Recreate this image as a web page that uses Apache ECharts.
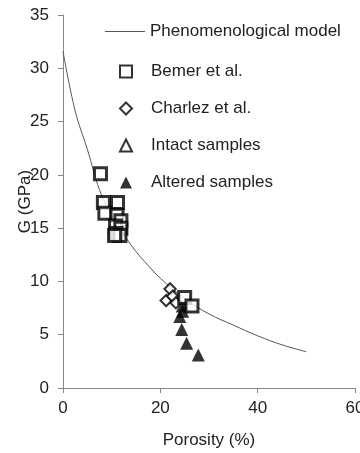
<!DOCTYPE html>
<html>
<head>
<meta charset="utf-8">
<script src="https://cdn.jsdelivr.net/npm/echarts@6/dist/echarts.min.js"></script>
<style>
  html, body { margin: 0; padding: 0; background: #fff; }
  #chart { width: 360px; height: 453px; }
</style>
</head>
<body>
<div id="chart"></div>
<script>
// phenomenological model curve [porosity %, G GPa]
const modelCurve = [
    [0, 31.6], [2.5, 26.0], [5, 22.4], [7.5, 18.6], [10, 16.2], [12.5, 14.4],
    [15, 12.8], [17.5, 11.5], [20, 10.3], [25, 8.4], [30, 6.95], [35, 5.9],
    [40, 4.9], [45, 4.05], [50, 3.4]
];

const bemer = [
    [7.7, 20.1], [8.3, 17.4], [11.2, 17.4], [8.6, 16.4], [11.1, 16.2], [11.9, 15.7],
    [10.8, 15.2], [11.9, 15.0], [10.9, 14.5], [11.7, 14.3], [10.6, 14.3],
    [25.0, 8.5], [26.5, 7.7]
];

const charlez = [
    [22.0, 9.3], [21.2, 8.2], [22.5, 8.6], [23.2, 8.0]
];

const intact = [
    [11.4, 15.4], [11.0, 14.8]
];

const altered = [
    [24.5, 7.7], [24.6, 7.2], [24.0, 6.7], [24.4, 5.5], [25.4, 4.2], [27.8, 3.1]
];

const xTicks = [0, 20, 40, 60];
const yTicks = [0, 5, 10, 15, 20, 25, 30, 35];

const chart = echarts.init(document.getElementById("chart"));
const font = "Liberation Sans";
const legendText = { fontSize: 17, color: "#222", fontFamily: font };

chart.setOption({
    animation: false,
    textStyle: { fontFamily: font },
    grid: { left: 63, right: 5, top: 15, bottom: 65, containLabel: false, outerBoundsMode: "none" },
    legend: [
        {
            // model line entry
            orient: "vertical",
            left: 100,
            top: 18,
            itemWidth: 40,
            itemHeight: 12,
            textStyle: legendText,
            data: [
                { name: "Phenomenological model", icon: "path://M0,0L40,0L40,1L0,1Z" }
            ]
        },
        {
            // sample markers
            orient: "vertical",
            left: 114,
            top: 58,
            itemGap: 20,
            itemWidth: 12,
            itemHeight: 12,
            textStyle: Object.assign({ padding: [0, 0, 0, 14] }, legendText),
            data: [
                "Bemer et al.",
                { name: "Charlez et al.", icon: "path://M6,1L11,6L6,11L1,6Z" },
                "Intact samples",
                "Altered samples"
            ]
        }
    ],
    xAxis: {
        type: "value",
        min: 0,
        max: 60,
        interval: 20,
        name: "Porosity (%)",
        nameLocation: "middle",
        nameGap: 44,
        nameMoveOverlap: false,
        nameTextStyle: { fontSize: 17, color: "#222" },
        axisLine: { lineStyle: { color: "#888" } },
        axisTick: { show: true, length: 5, lineStyle: { color: "#888" } },
        axisLabel: { fontSize: 17, color: "#222", margin: 12,
            formatter: (v) => (xTicks.includes(v) ? String(v) : "") },
        splitLine: { show: false }
    },
    yAxis: {
        type: "value",
        min: 0,
        max: 35,
        interval: 5,
        name: "G (GPa)",
        nameLocation: "middle",
        nameGap: 29,
        nameMoveOverlap: false,
        nameTextStyle: { fontSize: 17, color: "#222" },
        axisLine: { show: true, lineStyle: { color: "#888" } },
        axisTick: { show: true, length: 5, lineStyle: { color: "#888" } },
        axisLabel: { fontSize: 17, color: "#222", margin: 14,
            formatter: (v) => (yTicks.includes(v) ? String(v) : "") },
        splitLine: { show: false }
    },
    series: [
        {
            name: "Phenomenological model",
            type: "line",
            data: modelCurve,
            smooth: 0.4,
            symbol: "none",
            lineStyle: { color: "#555", width: 1 },
            itemStyle: { color: "#555" },
            z: 1
        },
        {
            name: "Altered samples",
            type: "scatter",
            data: altered,
            symbol: "triangle",
            symbolSize: 13,
            itemStyle: { color: "#000" },
            z: 2
        },
        {
            name: "Intact samples",
            type: "scatter",
            data: intact,
            symbol: "triangle",
            symbolSize: 11,
            itemStyle: { color: "#fff", borderColor: "#000", borderWidth: 2 },
            z: 3
        },
        {
            name: "Charlez et al.",
            type: "scatter",
            data: charlez,
            symbol: "rect",
            symbolRotate: 45,
            symbolSize: 8,
            itemStyle: { color: "#fff", borderColor: "#000", borderWidth: 2 },
            z: 4
        },
        {
            name: "Bemer et al.",
            type: "scatter",
            data: bemer,
            symbol: "rect",
            symbolSize: 12,
            itemStyle: { color: "#fff", borderColor: "#000", borderWidth: 3 },
            z: 5
        }
    ]
});
</script>
</body>
</html>
